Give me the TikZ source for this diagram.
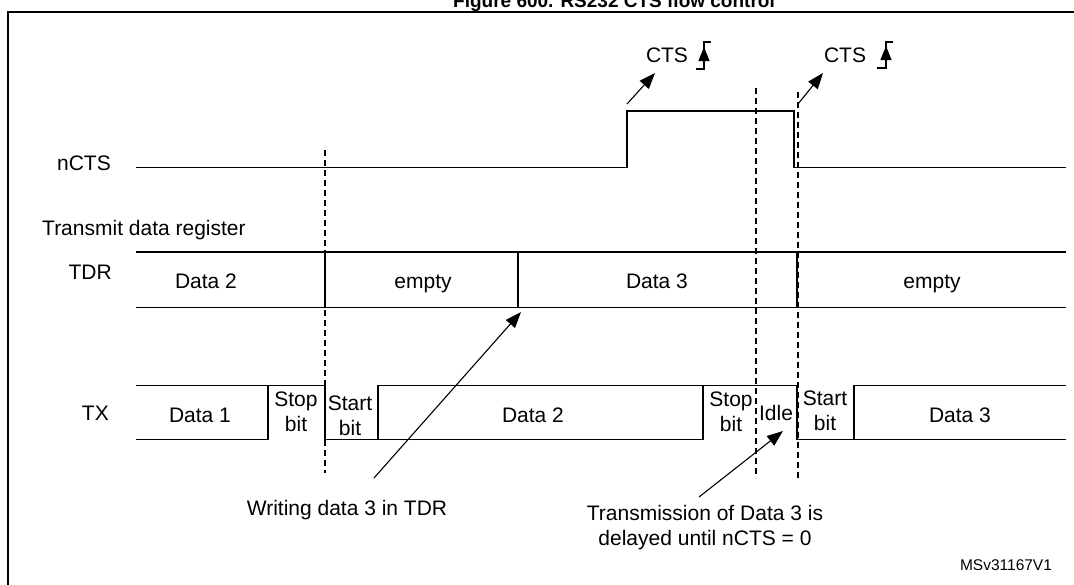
\documentclass[tikz,border=0pt]{standalone}
\usepackage{fontspec}
\setmainfont{Liberation Sans}
\usetikzlibrary{arrows.meta}
\begin{document}
\begin{tikzpicture}[x=1pt,y=-1pt,
  lbl/.style={font=\fontsize{21}{25}\selectfont, inner sep=0pt},
  sig/.style={line width=1.3pt},
  vdash/.style={dash pattern=on 6pt off 4pt, line width=1.1pt},
  ptr/.style={-{Triangle[length=16pt,width=12pt]}, line width=1.1pt},
  edgetip/.style={-{Triangle[length=14pt,width=11pt]}, line width=1.1pt},
]
\useasboundingbox (0,0) rectangle (1074,584);
% frame
\draw[line width=2pt] (7.5,620) -- (7.5,12) -- (1090,12);
\node[font=\bfseries\fontsize{19}{23}\selectfont, anchor=base, inner sep=0pt] (title) at (614,7) {Figure 600. RS232 CTS flow control};

% labels
\node[lbl, anchor=base east] (lncts) at (111,170) {nCTS};
\node[lbl, anchor=base west] (ltdrreg) at (42,235) {Transmit data register};
\node[lbl, anchor=base east] (ltdr) at (112,279) {TDR};
\node[lbl, anchor=base east] (ltx) at (109,420) {TX};

% nCTS waveform
\draw[sig] (136,167.5) -- (627,167.5) -- (627,111) -- (794,111) -- (794,167.5) -- (1066,167.5);

% CTS annotations
\node[lbl, anchor=base] (cts1) at (667,62) {CTS};
\node[lbl, anchor=base] (cts2) at (845,62) {CTS};
\draw[line width=1.1pt] (696,69) -- (704,69) -- (704,42) -- (711,42);
\draw[edgetip] (704,63) -- (704,47);
\draw[line width=1.1pt] (877,68) -- (886,68) -- (886,42) -- (893,42);
\draw[edgetip] (886,62) -- (886,46);
\coordinate (c1s) at (627,104);
\coordinate (c1e) at (655,73);
\coordinate (c2s) at (798,104);
\coordinate (c2e) at (823,73);
\draw[ptr] (c1s) -- (c1e);
\draw[ptr] (c2s) -- (c2e);

% TDR
\draw[sig] (136,252) -- (1066,252);
\draw[sig] (136,307.5) -- (1066,307.5);
\draw[sig] (325,252) -- (325,307.5);
\draw[sig] (518,252) -- (518,307.5);
\draw[sig] (797,252) -- (797,307.5);
\node[lbl, anchor=base] (tdr1) at (206,288) {Data 2};
\node[lbl, anchor=base] (tdr2) at (423,288) {empty};
\node[lbl, anchor=base] (tdr3) at (657,288) {Data 3};
\node[lbl, anchor=base] (tdr4) at (932,288) {empty};

% TX
\draw[sig] (136,385.5) -- (325,385.5) -- (325,439.5) -- (703,439.5);
\draw[sig] (136,439.5) -- (268,439.5) -- (268,385.5);
\draw[sig] (378,439.5) -- (378,385.5) -- (797,385.5) -- (797,439.5) -- (1066,439.5);
\draw[sig] (703,385.5) -- (703,439.5);
\draw[sig] (854,439.5) -- (854,385.5) -- (1066,385.5);
\node[lbl, anchor=base] (tx1) at (200,422) {Data 1};
\node[lbl, align=center] (tx2) at (296,411.5) {Stop\\bit};
\node[lbl, align=center] (tx3) at (350,415.5) {Start\\bit};
\node[lbl, anchor=base] (tx4) at (533,422) {Data 2};
\node[lbl, align=center] (tx5) at (731,411.5) {Stop\\bit};
\node[lbl, anchor=base] (tx6) at (776,420) {Idle};
\node[lbl, align=center] (tx7) at (825,410.5) {Start\\bit};
\node[lbl, anchor=base] (tx8) at (960,422) {Data 3};

% dashed markers
\draw[vdash] (325,150) -- (325,473);
\draw[vdash] (756,88) -- (756,478);
\draw[vdash] (798,92) -- (798,478);

% bottom notes
\node[lbl, anchor=base] (wtxt) at (347,515) {Writing data 3 in TDR};
\node[lbl, align=center] (ttxt) at (705,528) {Transmission of Data 3 is\\delayed until nCTS = 0};
\coordinate (w1) at (374,478);
\coordinate (w2) at (521,312);
\coordinate (t1) at (699,497);
\coordinate (t2) at (783,431);
\draw[ptr] (w1) -- (w2);
\draw[ptr] (t1) -- (t2);

\node[font=\fontsize{15.5}{18}\selectfont, anchor=base, inner sep=0pt] (msv) at (1006,570) {MSv31167V1};
\end{tikzpicture}
\end{document}
